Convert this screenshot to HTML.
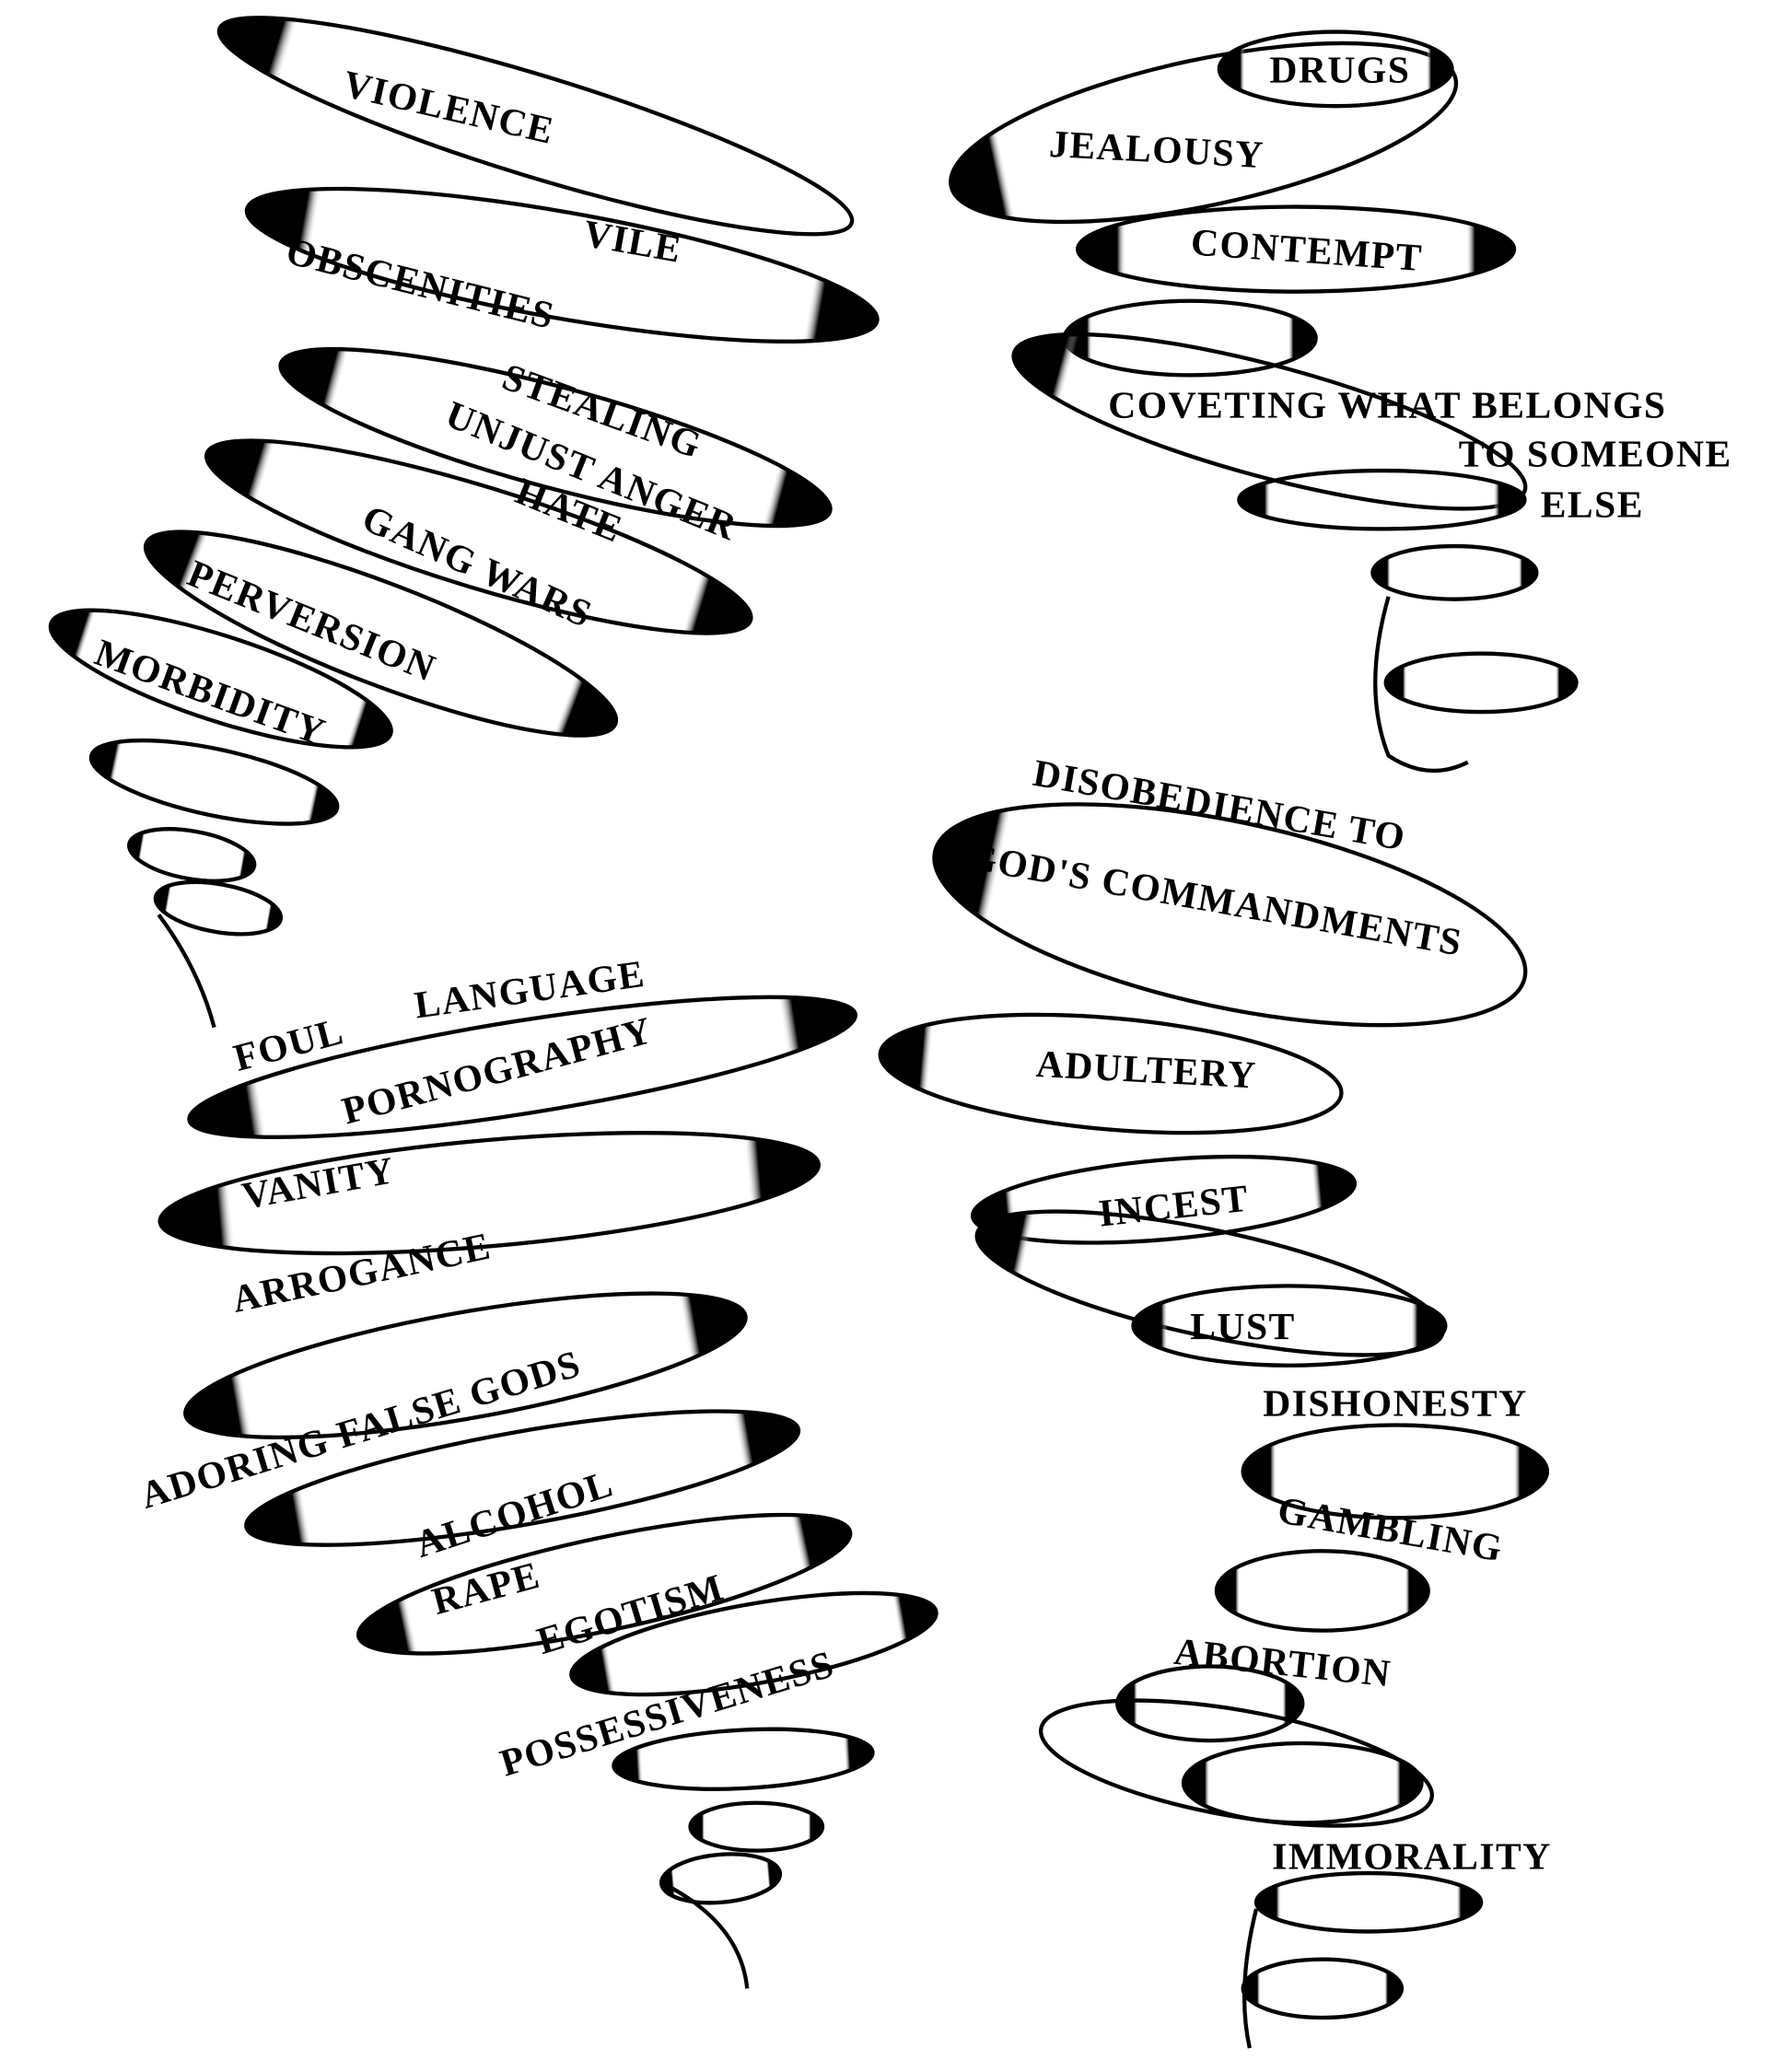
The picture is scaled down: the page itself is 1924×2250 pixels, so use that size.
<!DOCTYPE html>
<html><head><meta charset="utf-8"><style>
html,body{margin:0;padding:0;background:#fff;}
svg{display:block;}
text{font-family:"Liberation Serif",serif;font-size:29px;font-weight:bold;fill:#000;letter-spacing:1px;}
</style></head><body>
<svg width="1924" height="2250" viewBox="0 0 1340 1563" preserveAspectRatio="none" xmlns="http://www.w3.org/2000/svg">
<defs>
<linearGradient id="g" x1="0" y1="0" x2="1" y2="0">
<stop offset="0" stop-color="#000"/><stop offset="0.09" stop-color="#000"/><stop offset="0.11" stop-color="#fff" stop-opacity="0"/>
<stop offset="0.89" stop-color="#fff" stop-opacity="0"/><stop offset="0.91" stop-color="#000"/><stop offset="1" stop-color="#000"/>
</linearGradient>
<linearGradient id="gl" x1="0" y1="0" x2="1" y2="0">
<stop offset="0" stop-color="#000"/><stop offset="0.09" stop-color="#000"/><stop offset="0.11" stop-color="#fff" stop-opacity="0"/><stop offset="1" stop-color="#fff" stop-opacity="0"/>
</linearGradient>
</defs>
<g stroke="#000" stroke-width="3" fill="url(#g)">
<ellipse cx="0" cy="0" rx="250" ry="38" transform="translate(405,95) rotate(17)" fill="url(#gl)"/>
<ellipse cx="0" cy="0" rx="242" ry="40" transform="translate(425,200) rotate(10)"/>
<ellipse cx="0" cy="0" rx="215" ry="38" transform="translate(420,330) rotate(15)"/>
<ellipse cx="0" cy="0" rx="215" ry="38" transform="translate(362,405) rotate(17)"/>
<ellipse cx="0" cy="0" rx="190" ry="38" transform="translate(288,478) rotate(21)"/>
<ellipse cx="0" cy="0" rx="135" ry="32" transform="translate(167,512) rotate(18)"/>
<ellipse cx="0" cy="0" rx="95" ry="25" transform="translate(162,590) rotate(12)"/>
<ellipse cx="0" cy="0" rx="48" ry="18" transform="translate(145,645) rotate(10)"/>
<ellipse cx="0" cy="0" rx="48" ry="18" transform="translate(165,685) rotate(10)"/>
<path d="M120,690 Q150,730 162,775" fill="none"/>
<ellipse cx="0" cy="0" rx="255" ry="35" transform="translate(395,805) rotate(-9)"/>
<ellipse cx="0" cy="0" rx="250" ry="40" transform="translate(370,900) rotate(-5)"/>
<ellipse cx="0" cy="0" rx="215" ry="40" transform="translate(352,1030) rotate(-10)"/>
<ellipse cx="0" cy="0" rx="212" ry="35" transform="translate(395,1115) rotate(-10)"/>
<ellipse cx="0" cy="0" rx="190" ry="35" transform="translate(457,1195) rotate(-12)"/>
<ellipse cx="0" cy="0" rx="140" ry="30" transform="translate(570,1240) rotate(-10)"/>
<ellipse cx="0" cy="0" rx="98" ry="22" transform="translate(562,1327) rotate(-3)"/>
<ellipse cx="0" cy="0" rx="50" ry="18" transform="translate(572,1378)"/>
<ellipse cx="0" cy="0" rx="45" ry="18" transform="translate(545,1417) rotate(-5)"/>
<path d="M500,1420 Q560,1450 565,1500" fill="none"/>
<ellipse cx="0" cy="0" rx="195" ry="55" transform="translate(910,100) rotate(-12)" fill="url(#gl)"/>
<ellipse cx="0" cy="0" rx="88" ry="28" transform="translate(1010,52)"/>
<ellipse cx="0" cy="0" rx="165" ry="32" transform="translate(980,188)"/>
<ellipse cx="0" cy="0" rx="95" ry="28" transform="translate(900,255)"/>
<ellipse cx="0" cy="0" rx="200" ry="42" transform="translate(960,318) rotate(15)" fill="url(#gl)"/>
<ellipse cx="0" cy="0" rx="108" ry="22" transform="translate(1045,377)"/>
<ellipse cx="0" cy="0" rx="62" ry="20" transform="translate(1100,432)"/>
<ellipse cx="0" cy="0" rx="72" ry="22" transform="translate(1120,515)"/>
<path d="M1050,450 Q1030,520 1050,570 Q1080,590 1110,575" fill="none"/>
<ellipse cx="0" cy="0" rx="228" ry="70" transform="translate(930,690) rotate(12)" fill="url(#gl)"/>
<ellipse cx="0" cy="0" rx="175" ry="42" transform="translate(840,810) rotate(5)" fill="url(#gl)"/>
<ellipse cx="0" cy="0" rx="145" ry="30" transform="translate(880,905) rotate(-5)"/>
<ellipse cx="0" cy="0" rx="180" ry="40" transform="translate(915,968) rotate(12)" fill="url(#gl)"/>
<ellipse cx="0" cy="0" rx="118" ry="30" transform="translate(975,1000)"/>
<ellipse cx="0" cy="0" rx="115" ry="35" transform="translate(1055,1110)"/>
<ellipse cx="0" cy="0" rx="80" ry="30" transform="translate(1000,1200)"/>
<ellipse cx="0" cy="0" rx="70" ry="28" transform="translate(915,1285)"/>
<ellipse cx="0" cy="0" rx="150" ry="40" transform="translate(935,1330) rotate(10)" fill="none"/>
<ellipse cx="0" cy="0" rx="90" ry="30" transform="translate(985,1345)"/>
<ellipse cx="0" cy="0" rx="85" ry="22" transform="translate(1035,1435)"/>
<ellipse cx="0" cy="0" rx="60" ry="22" transform="translate(1000,1500)"/>
<path d="M950,1440 Q935,1500 945,1545" fill="none"/>
</g>
<text transform="translate(258,72) rotate(13)">VIOLENCE</text>
<text transform="translate(440,185) rotate(10)">VILE</text>
<text transform="translate(215,198) rotate(14)">OBSCENITIES</text>
<text transform="translate(378,292) rotate(20)">STEALING</text>
<text transform="translate(335,320) rotate(22)">UNJUST ANGER</text>
<text transform="translate(388,378) rotate(22)">HATE</text>
<text transform="translate(272,398) rotate(24)">GANG WARS</text>
<text transform="translate(140,440) rotate(22)">PERVERSION</text>
<text transform="translate(70,500) rotate(20)">MORBIDITY</text>
<text transform="translate(180,808) rotate(-15)">FOUL</text>
<text transform="translate(315,768) rotate(-8)">LANGUAGE</text>
<text transform="translate(262,848) rotate(-15)">PORNOGRAPHY</text>
<text transform="translate(185,912) rotate(-10)">VANITY</text>
<text transform="translate(178,990) rotate(-12)">ARROGANCE</text>
<text transform="translate(110,1138) rotate(-17)">ADORING FALSE GODS</text>
<text transform="translate(318,1175) rotate(-18)">ALCOHOL</text>
<text transform="translate(330,1218) rotate(-15)">RAPE</text>
<text transform="translate(410,1248) rotate(-17)">EGOTISM</text>
<text transform="translate(382,1340) rotate(-17)">POSSESSIVENESS</text>
<text transform="translate(960,62)">DRUGS</text>
<text transform="translate(793,118) rotate(3)">JEALOUSY</text>
<text transform="translate(900,192) rotate(4)">CONTEMPT</text>
<text x="838" y="315">COVETING  WHAT  BELONGS</text>
<text x="1103" y="352">TO  SOMEONE</text>
<text x="1165" y="390">ELSE</text>
<text transform="translate(780,592) rotate(10)">DISOBEDIENCE  TO</text>
<text transform="translate(730,655) rotate(10)">GOD'S  COMMANDMENTS</text>
<text transform="translate(783,812) rotate(3)">ADULTERY</text>
<text transform="translate(832,925) rotate(-6)">INCEST</text>
<text x="900" y="1010">LUST</text>
<text x="955" y="1068">DISHONESTY</text>
<text transform="translate(965,1148) rotate(10)">GAMBLING</text>
<text transform="translate(887,1255) rotate(6)">ABORTION</text>
<text x="962" y="1410">IMMORALITY</text>
</svg>
</body></html>
